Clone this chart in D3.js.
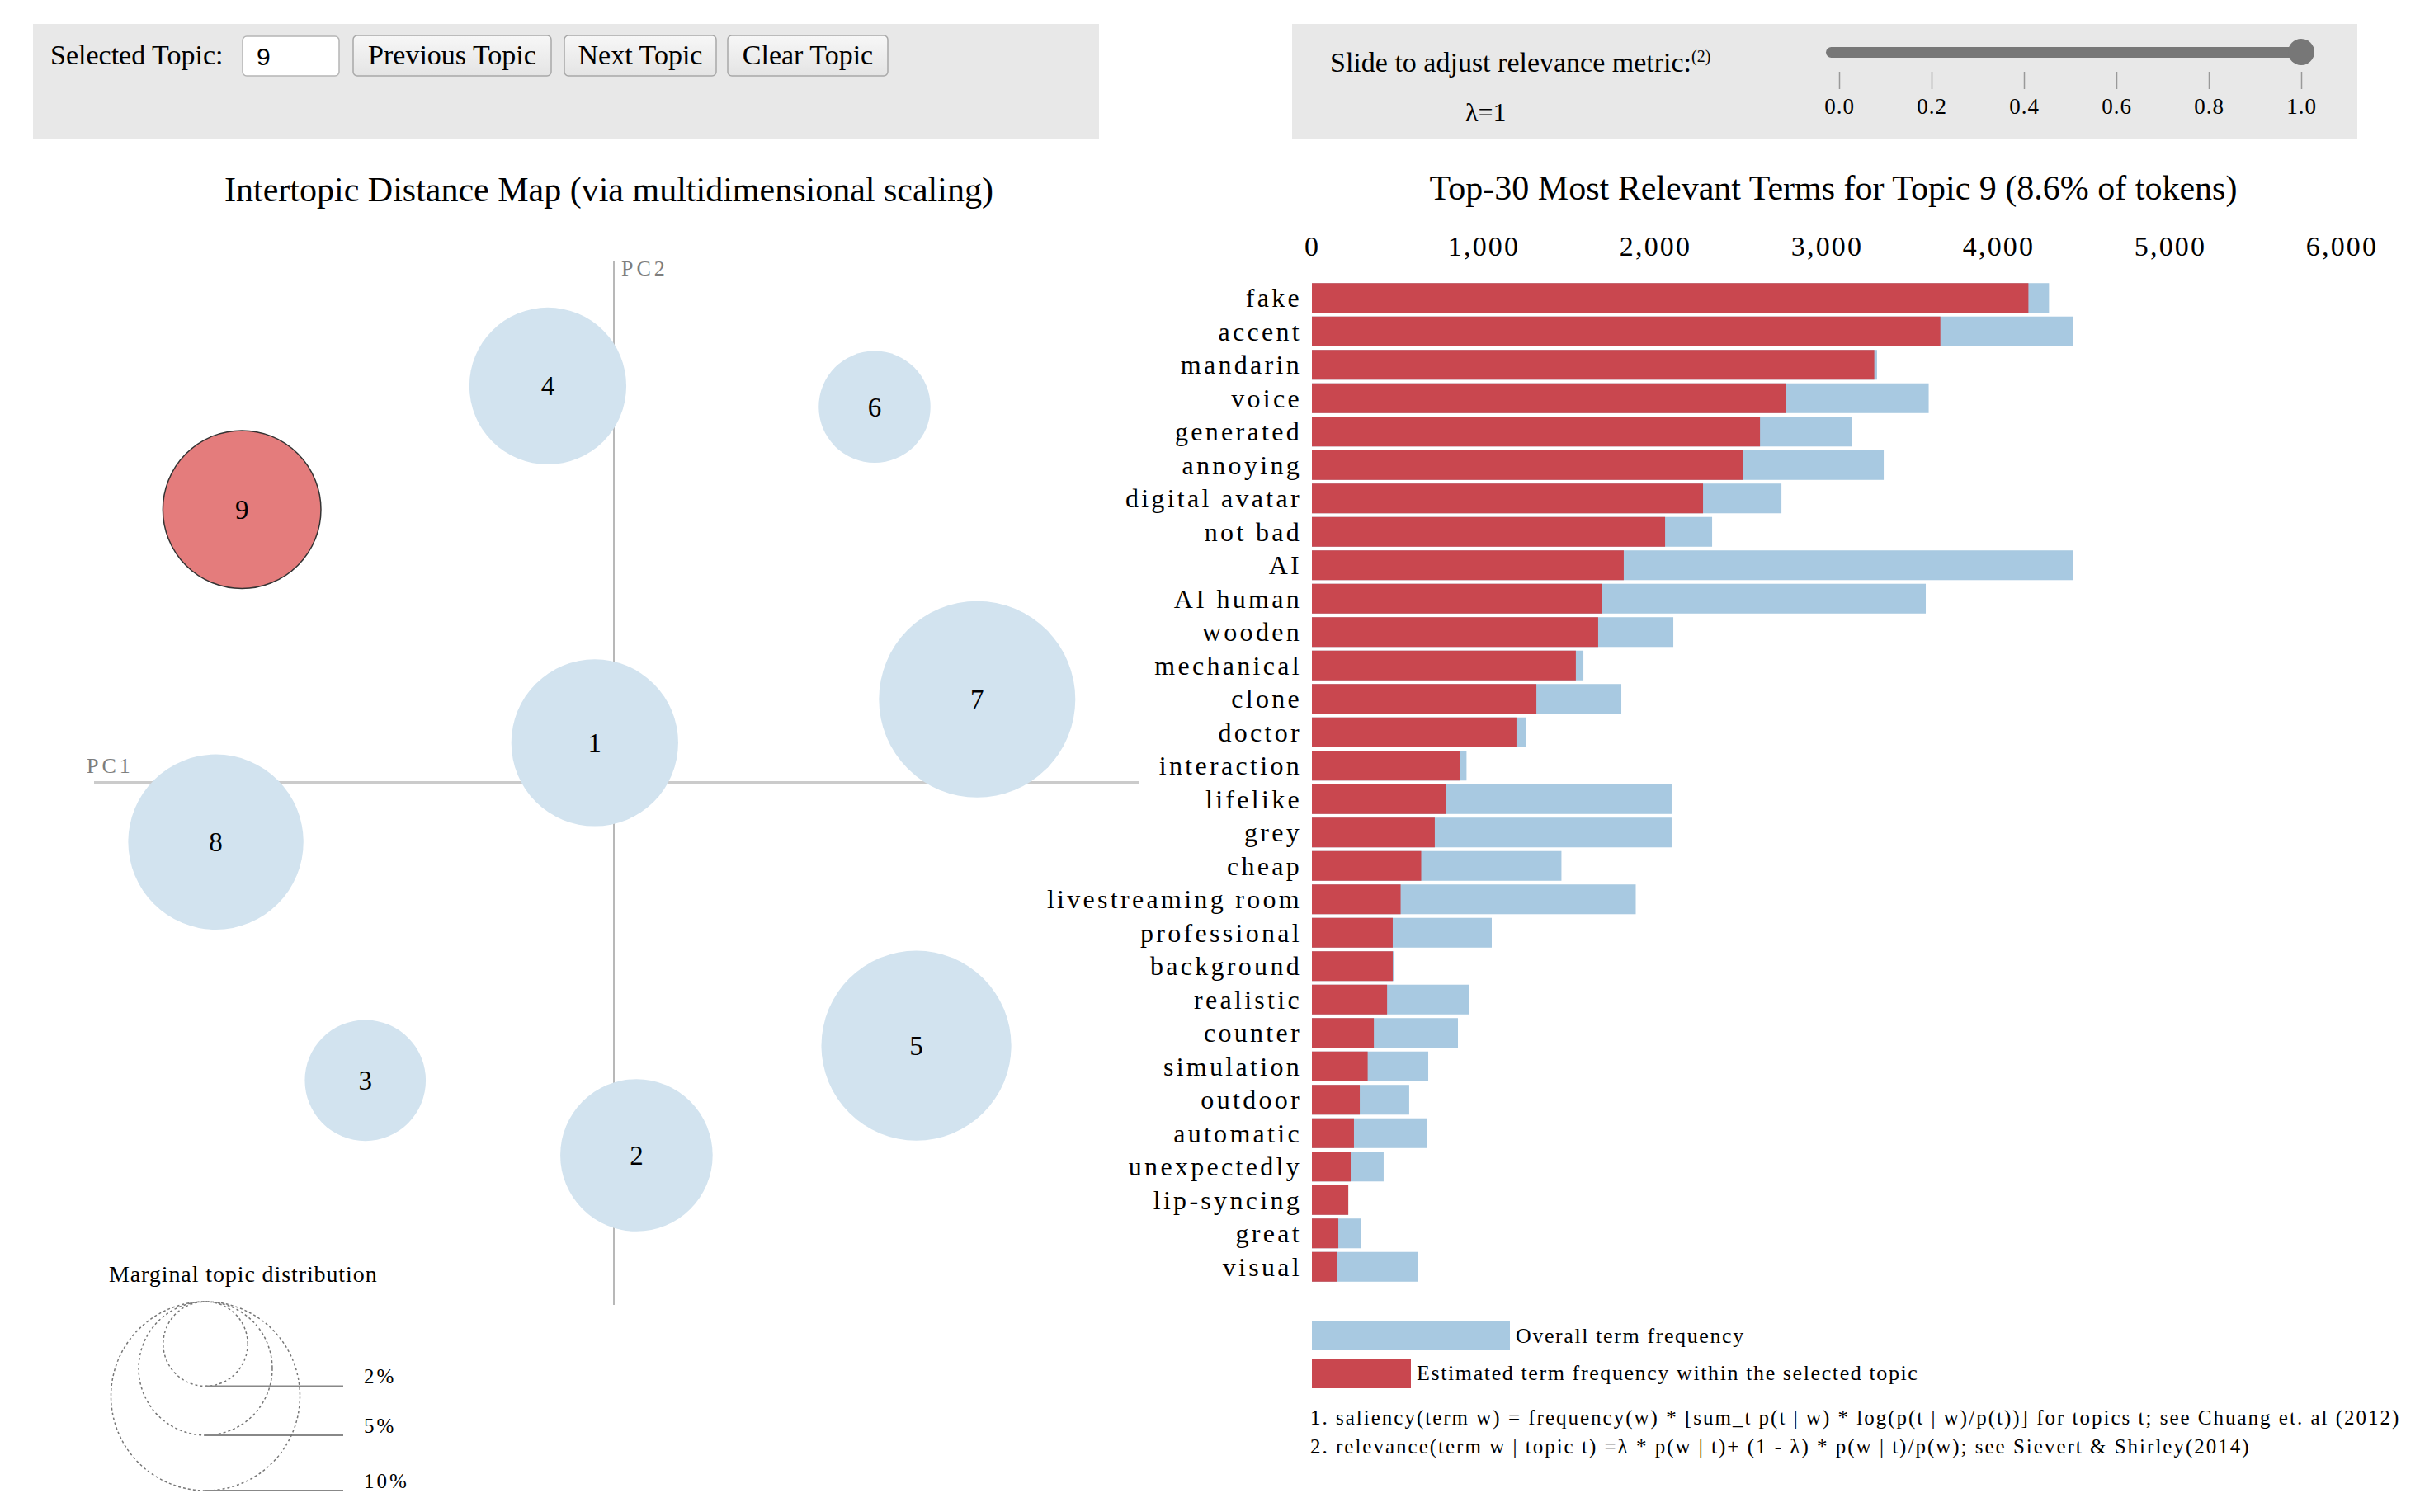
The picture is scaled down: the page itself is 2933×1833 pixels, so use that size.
<!DOCTYPE html>
<html>
<head>
<meta charset="utf-8">
<script src="https://cdn.jsdelivr.net/npm/d3@7"></script>
<style>
body { margin: 0; background: #fff; }
svg text { font-family: "Liberation Serif", "Times New Roman", serif; fill: #000; }
</style>
</head>
<body>
<svg id="vis" width="2933" height="1833"></svg>
<script>
// terms of topic 9, top to bottom
var terms = ['fake', 'accent', 'mandarin', 'voice', 'generated', 'annoying', 'digital avatar',
    'not bad', 'AI', 'AI human', 'wooden', 'mechanical', 'clone', 'doctor', 'interaction',
    'lifelike', 'grey', 'cheap', 'livestreaming room', 'professional', 'background',
    'realistic', 'counter', 'simulation', 'outdoor', 'automatic', 'unexpectedly',
    'lip-syncing', 'great', 'visual'];
// estimated term frequency within topic 9 (red)
var topicFreq = [4175, 3662, 3277, 2760, 2611, 2514, 2279, 2058, 1817, 1688, 1668, 1538,
    1308, 1192, 861, 781, 716, 637, 517, 471, 471, 438, 361, 325, 279, 245, 226, 212, 154, 149];
// overall term frequency (blue)
var totalFreq = [4295, 4435, 3293, 3594, 3149, 3332, 2736, 2332, 4435, 3577, 2106, 1582,
    1803, 1250, 901, 2096, 2096, 1454, 1887, 1048, 481, 918, 851, 678, 567, 673, 418, 212, 288, 620];
var freqTicks = [0, 1000, 2000, 3000, 4000, 5000, 6000];

// topics on the intertopic distance map
var topicIds = [1, 2, 3, 4, 5, 6, 7, 8, 9];
var topicX = [-0.011, 0.013, -0.143, -0.038, 0.174, 0.150, 0.209, -0.229, -0.214];
var topicY = [0.023, -0.214, -0.171, 0.228, -0.151, 0.216, 0.048, -0.034, 0.157];
var topicSize = [7.8, 6.5, 4.1, 6.9, 10.1, 3.5, 10.8, 8.6, 7.0]; // percent of tokens
var selectedTopic = 9;
var legendSizes = [2, 5, 10];

var lambdaTicks = [0, 0.2, 0.4, 0.6, 0.8, 1.0];
var lambdaValue = 1;

var blue = '#a8c9e1', red = '#c9474f';
var svg = d3.select('#vis');

/* ---------- top control panels ---------- */
svg.append('rect').attr('x', 40).attr('y', 29).attr('width', 1292).attr('height', 140).attr('fill', '#e8e8e8');
svg.append('rect').attr('x', 1566).attr('y', 29).attr('width', 1291).attr('height', 140).attr('fill', '#e8e8e8');

svg.append('text').attr('x', 61).attr('y', 78).attr('font-size', 34).text('Selected Topic:');

svg.append('rect').attr('x', 294).attr('y', 44).attr('width', 117).attr('height', 48)
    .attr('rx', 5).attr('fill', '#fff').attr('stroke', '#b5b5b5').attr('stroke-width', 1.5);
svg.append('text').attr('x', 311).attr('y', 79).attr('font-size', 30)
    .style('font-family', '"Liberation Sans", Arial, sans-serif').text(selectedTopic);

var grad = svg.append('defs').append('linearGradient').attr('id', 'btn')
    .attr('x1', 0).attr('y1', 0).attr('x2', 0).attr('y2', 1);
grad.append('stop').attr('offset', '0%').attr('stop-color', '#f7f7f7');
grad.append('stop').attr('offset', '100%').attr('stop-color', '#e4e4e4');

var buttons = [['Previous Topic', 428, 240], ['Next Topic', 684, 184], ['Clear Topic', 882, 194]];
buttons.forEach(function (b) {
    svg.append('rect').attr('x', b[1]).attr('y', 43).attr('width', b[2]).attr('height', 49)
        .attr('rx', 5).attr('fill', 'url(#btn)').attr('stroke', '#a8a8a8').attr('stroke-width', 1.5);
    svg.append('text').attr('x', b[1] + b[2] / 2).attr('y', 78).attr('font-size', 34)
        .attr('text-anchor', 'middle').text(b[0]);
});

// relevance slider
var lambdaScale = d3.scaleLinear().domain([0, 1]).range([2229, 2789]);
var sliderText = svg.append('text').attr('x', 1612).attr('y', 87).attr('font-size', 34)
    .text('Slide to adjust relevance metric:');
sliderText.append('tspan').attr('font-size', 20).attr('dy', -12).text('(2)');
svg.append('text').attr('x', 1776).attr('y', 147).attr('font-size', 32).text('\u03bb=' + lambdaValue);

svg.append('rect').attr('x', lambdaScale(0) - 16).attr('y', 57)
    .attr('width', lambdaScale(1) - lambdaScale(0) + 26).attr('height', 13)
    .attr('rx', 6.5).attr('fill', '#777');
svg.append('circle').attr('cx', lambdaScale(lambdaValue)).attr('cy', 63).attr('r', 16).attr('fill', '#777');

var lambdaAxis = svg.append('g').attr('transform', 'translate(0,87)')
    .call(d3.axisBottom(lambdaScale).tickValues(lambdaTicks).tickFormat(d3.format('.1f'))
        .tickSize(21).tickPadding(11));
lambdaAxis.select('.domain').remove();
lambdaAxis.selectAll('line').attr('stroke', '#999').attr('stroke-width', 1.5);
lambdaAxis.selectAll('text').attr('font-size', 27).attr('letter-spacing', 1)
    .style('font-family', '"Liberation Serif", serif');

/* ---------- intertopic distance map ---------- */
var xMds = d3.scaleLinear().domain([-0.3, 0.3]).range([112, 1376]);
var yMds = d3.scaleLinear().domain([-0.3, 0.3]).range([1582, 316]);
var rScale = d3.scaleSqrt().domain([0, 10]).range([0, 114.5]);

svg.append('text').attr('x', 738).attr('y', 244).attr('font-size', 42).attr('text-anchor', 'middle')
    .text('Intertopic Distance Map (via multidimensional scaling)');

svg.append('line').attr('x1', xMds(-0.3) + 2).attr('x2', xMds(0.3) + 4)
    .attr('y1', yMds(0)).attr('y2', yMds(0)).attr('stroke', '#cbcbcb').attr('stroke-width', 4);
svg.append('line').attr('x1', xMds(0)).attr('x2', xMds(0))
    .attr('y1', yMds(0.3)).attr('y2', yMds(-0.3)).attr('stroke', '#a0a0a0').attr('stroke-width', 1.5);
svg.append('text').attr('x', 105).attr('y', 937).attr('font-size', 26).attr('letter-spacing', 4)
    .style('fill', '#7d7d7d').text('PC1');
svg.append('text').attr('x', 753).attr('y', 334).attr('font-size', 26).attr('letter-spacing', 4)
    .style('fill', '#7d7d7d').text('PC2');

var topics = topicIds.map(function (id, i) {
    return { id: id, x: topicX[i], y: topicY[i], size: topicSize[i] };
});

svg.append('g').selectAll('circle').data(topics).join('circle')
    .attr('cx', function (d) { return xMds(d.x); })
    .attr('cy', function (d) { return yMds(d.y); })
    .attr('r', function (d) { return rScale(d.size); })
    .attr('fill', function (d) { return d.id === selectedTopic ? '#e47c7c' : '#d2e3ef'; })
    .attr('stroke', function (d) { return d.id === selectedTopic ? '#333' : 'none'; })
    .attr('stroke-width', 1.5);

svg.append('g').selectAll('text').data(topics).join('text')
    .attr('x', function (d) { return xMds(d.x); })
    .attr('y', function (d) { return yMds(d.y); })
    .attr('dy', '0.35em').attr('text-anchor', 'middle').attr('font-size', 33)
    .text(function (d) { return d.id; });

// marginal topic distribution legend
svg.append('text').attr('x', 132).attr('y', 1554).attr('font-size', 28).attr('letter-spacing', 0.9)
    .text('Marginal topic distribution');
var legTop = 1578, legX = 249;
var leg = svg.append('g').selectAll('g').data(legendSizes).join('g');
leg.append('circle').attr('cx', legX)
    .attr('cy', function (d) { return legTop + rScale(d); })
    .attr('r', function (d) { return rScale(d); })
    .attr('fill', 'none').attr('stroke', '#777').attr('stroke-width', 1.5).attr('stroke-dasharray', '3 3');
leg.append('line').attr('x1', legX).attr('x2', 416)
    .attr('y1', function (d) { return legTop + 2 * rScale(d); })
    .attr('y2', function (d) { return legTop + 2 * rScale(d); })
    .attr('stroke', '#888').attr('stroke-width', 2);
leg.append('text').attr('x', 441)
    .attr('y', function (d) { return legTop + 2 * rScale(d) - 3; })
    .attr('font-size', 25).attr('letter-spacing', 3)
    .text(function (d) { return d + '%'; });

/* ---------- bar chart ---------- */
var x = d3.scaleLinear().domain([0, 6000]).range([1590, 2838]);
var y = d3.scaleBand().domain(terms).range([341, 341 + 30 * 40.5]).paddingInner(0.11).paddingOuter(0.055);

svg.append('text').attr('x', 2222).attr('y', 242).attr('font-size', 42).attr('text-anchor', 'middle')
    .text('Top-30 Most Relevant Terms for Topic ' + selectedTopic + ' (8.6% of tokens)');

var xAxis = svg.append('g').attr('transform', 'translate(0,310)')
    .call(d3.axisTop(x).tickValues(freqTicks).tickFormat(d3.format(',')).tickSize(0).tickPadding(0));
xAxis.select('.domain').remove();
xAxis.selectAll('text').attr('font-size', 34).attr('letter-spacing', 2.2)
    .style('font-family', '"Liberation Serif", serif');

var bars = terms.map(function (t, i) {
    return { term: t, topic: topicFreq[i], total: totalFreq[i] };
});

svg.append('g').selectAll('rect').data(bars).join('rect')
    .attr('x', x(0)).attr('y', function (d) { return y(d.term); })
    .attr('width', function (d) { return x(d.total) - x(0); })
    .attr('height', y.bandwidth()).attr('fill', blue);
svg.append('g').selectAll('rect').data(bars).join('rect')
    .attr('x', x(0)).attr('y', function (d) { return y(d.term); })
    .attr('width', function (d) { return x(d.topic) - x(0); })
    .attr('height', y.bandwidth()).attr('fill', red);

svg.append('g').selectAll('text').data(bars).join('text')
    .attr('x', x(0) - 12)
    .attr('y', function (d) { return y(d.term) + y.bandwidth() / 2; })
    .attr('dy', '0.34em').attr('text-anchor', 'end')
    .attr('font-size', 32).attr('letter-spacing', 3.3)
    .text(function (d) { return d.term; });

// bar legend
svg.append('rect').attr('x', x(0)).attr('y', 1601).attr('width', 240).attr('height', 36).attr('fill', blue);
svg.append('rect').attr('x', x(0)).attr('y', 1647).attr('width', 120).attr('height', 36).attr('fill', red);
svg.append('text').attr('x', 1837).attr('y', 1628).attr('font-size', 26).attr('letter-spacing', 1.6)
    .text('Overall term frequency');
svg.append('text').attr('x', 1717).attr('y', 1673).attr('font-size', 26).attr('letter-spacing', 1.6)
    .text('Estimated term frequency within the selected topic');

svg.append('text').attr('x', 1588).attr('y', 1727).attr('font-size', 25).attr('letter-spacing', 2)
    .text('1. saliency(term w) = frequency(w) * [sum_t p(t | w) * log(p(t | w)/p(t))] for topics t; see Chuang et. al (2012)');
svg.append('text').attr('x', 1588).attr('y', 1762).attr('font-size', 25).attr('letter-spacing', 2)
    .text('2. relevance(term w | topic t) =\u03bb * p(w | t)+ (1 - \u03bb) * p(w | t)/p(w); see Sievert & Shirley(2014)');
</script>
</body>
</html>
